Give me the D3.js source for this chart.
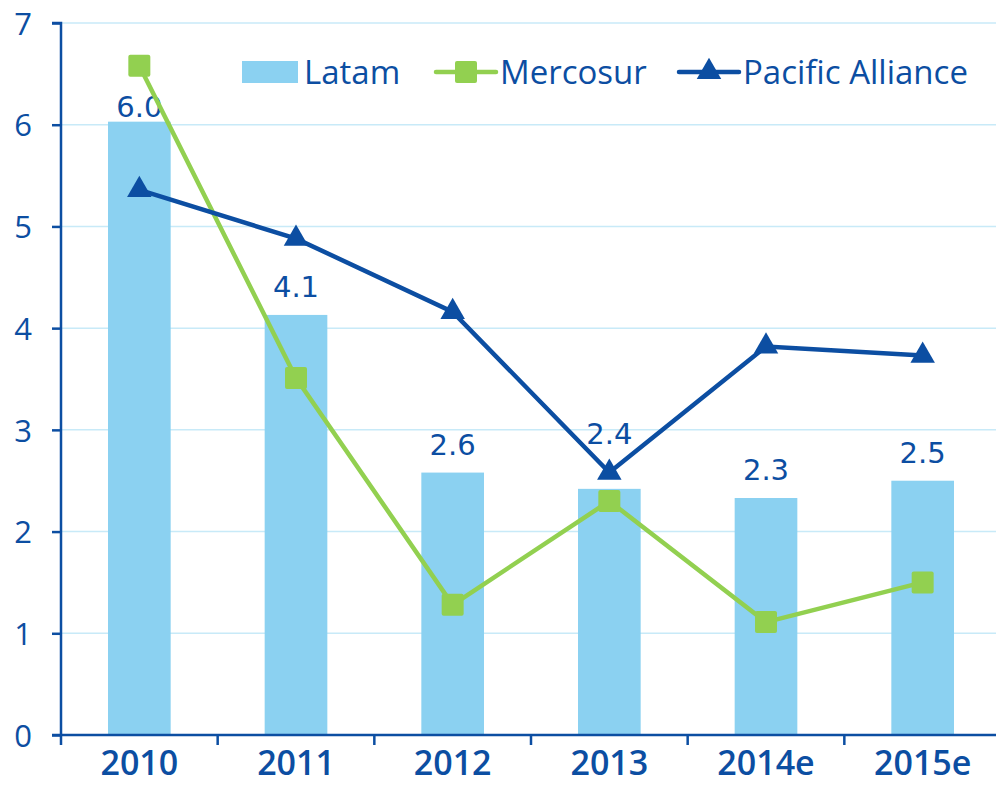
<!DOCTYPE html>
<html>
<head>
<meta charset="utf-8">
<script src="https://cdn.jsdelivr.net/npm/d3@7"></script>
<style>
  body { margin: 0; background: #fff; }
  svg text { font-family: "Open Sans", "Noto Sans", sans-serif; fill: #0c4ea2; }
</style>
</head>
<body>
<div id="chart"></div>
<script>
// chart values
const years = ["2010", "2011", "2012", "2013", "2014e", "2015e"];
const latam = [6.03, 4.13, 2.58, 2.42, 2.33, 2.50];
const latamLabels = ["6.0", "4.1", "2.6", "2.4", "2.3", "2.5"];
const mercosur = [6.58, 3.51, 1.28, 2.30, 1.11, 1.50];
const pacific = [5.36, 4.88, 4.16, 2.58, 3.82, 3.73];
const yTicks = [0, 1, 2, 3, 4, 5, 6, 7];

const W = 996, H = 789;
const margin = { top: 23, right: -5, bottom: 54, left: 61 };
const width = W - margin.left - margin.right;
const height = H - margin.top - margin.bottom;

const blue = "#0c4ea2", barColor = "#8bd1f1", green = "#92d050", grid = "#c8eaf8";

const svg = d3.select("#chart").append("svg")
    .attr("width", W)
    .attr("height", H);

const g = svg.append("g")
    .attr("transform", "translate(" + margin.left + "," + margin.top + ")");

const x = d3.scaleBand().domain(years).range([0, width]).padding(0);
const y = d3.scaleLinear().domain([0, 7]).range([height, 0]);

// gridlines
g.selectAll(".grid").data(yTicks.filter(d => d > 0))
    .enter().append("line")
    .attr("class", "grid")
    .attr("x1", 0).attr("x2", W)
    .attr("y1", d => y(d)).attr("y2", d => y(d))
    .attr("stroke", grid).attr("stroke-width", 1.5);

// bars
const barW = x.bandwidth() * 0.4;
g.selectAll(".bar").data(latam)
    .enter().append("rect")
    .attr("class", "bar")
    .attr("x", (d, i) => x(years[i]) + (x.bandwidth() - barW) / 2)
    .attr("width", barW)
    .attr("y", d => y(d))
    .attr("height", d => height - y(d))
    .attr("fill", barColor);

// bar labels - 2010 sits tight on its bar, 2013 is pushed above the triangle
function labelGap(i) {
    if (i === 0) return 5;
    if (i === 3) return 45;
    return 18;
}
g.selectAll(".barLabel").data(latam)
    .enter().append("text")
    .attr("class", "barLabel")
    .attr("x", (d, i) => x(years[i]) + x.bandwidth() / 2)
    .attr("y", (d, i) => y(d) - labelGap(i))
    .attr("text-anchor", "middle")
    .attr("font-size", 29)
    .style("font-family", "'DejaVu Sans', sans-serif")
    .text((d, i) => latamLabels[i]);

// y axis
const yAxis = g.append("g")
    .call(d3.axisLeft(y).tickValues(yTicks).tickSize(9).tickPadding(20).tickFormat(d3.format("d")));
yAxis.select(".domain").attr("stroke", blue).attr("stroke-width", 2.5).attr("d", "M-9," + y(7) + "H0V" + height);
yAxis.selectAll(".tick line").attr("stroke", blue).attr("stroke-width", 2.5);
yAxis.selectAll(".tick text").attr("font-size", 31).attr("fill", blue)
    .style("font-family", "'Open Sans', sans-serif").attr("dy", "0.36em");

// x axis
const xAxis = g.append("g")
    .attr("transform", "translate(0," + height + ")")
    .call(d3.axisBottom(x).tickSize(0).tickPadding(16));
xAxis.select(".domain").attr("stroke", blue).attr("stroke-width", 2.5).attr("d", "M-9,0H" + (width + 10));
xAxis.selectAll(".tick text").attr("font-size", 34).attr("font-weight", 600).attr("fill", blue)
    .style("font-family", "'Open Sans', sans-serif");
// tick marks between categories
g.selectAll(".xtick").data(years.concat(["end"]))
    .enter().append("line")
    .attr("class", "xtick")
    .attr("x1", (d, i) => i * x.step()).attr("x2", (d, i) => i * x.step())
    .attr("y1", height).attr("y2", height + 10)
    .attr("stroke", blue).attr("stroke-width", 2.5);

const cx = i => x(years[i]) + x.bandwidth() / 2;

// Mercosur line
g.append("path")
    .datum(mercosur)
    .attr("fill", "none")
    .attr("stroke", green)
    .attr("stroke-width", 4.5)
    .attr("d", d3.line().x((d, i) => cx(i)).y(d => y(d)));
g.selectAll(".sq").data(mercosur)
    .enter().append("rect")
    .attr("class", "sq")
    .attr("x", (d, i) => cx(i) - 11)
    .attr("y", d => y(d) - 11)
    .attr("width", 22).attr("height", 22)
    .attr("rx", 2)
    .attr("fill", green);

// Pacific Alliance line
g.append("path")
    .datum(pacific)
    .attr("fill", "none")
    .attr("stroke", blue)
    .attr("stroke-width", 4.5)
    .attr("d", d3.line().x((d, i) => cx(i)).y(d => y(d)));
const tri = d3.symbol().type(d3.symbolTriangle).size(260);
g.selectAll(".tri").data(pacific)
    .enter().append("path")
    .attr("class", "tri")
    .attr("transform", (d, i) => "translate(" + cx(i) + "," + y(d) + ")")
    .attr("d", tri)
    .attr("fill", blue);

// legend
const leg = svg.append("g").attr("transform", "translate(0,72)");
leg.append("rect").attr("x", 242).attr("y", -11).attr("width", 56).attr("height", 22).attr("fill", barColor);
leg.append("text").attr("x", 304).attr("y", 0).attr("dy", "0.36em").attr("font-size", 33).text("Latam");

leg.append("line").attr("x1", 436).attr("x2", 496).attr("y1", 0).attr("y2", 0)
    .attr("stroke", green).attr("stroke-width", 4.5).attr("stroke-linecap", "round");
leg.append("rect").attr("x", 455).attr("y", -11).attr("width", 22).attr("height", 22).attr("rx", 2).attr("fill", green);
leg.append("text").attr("x", 500).attr("y", 0).attr("dy", "0.36em").attr("font-size", 33).text("Mercosur");

leg.append("line").attr("x1", 679).attr("x2", 739).attr("y1", 0).attr("y2", 0)
    .attr("stroke", blue).attr("stroke-width", 4.5).attr("stroke-linecap", "round");
leg.append("path").attr("transform", "translate(709,0)").attr("d", tri).attr("fill", blue);
leg.append("text").attr("x", 743).attr("y", 0).attr("dy", "0.36em").attr("font-size", 33).text("Pacific Alliance");
</script>
</body>
</html>
